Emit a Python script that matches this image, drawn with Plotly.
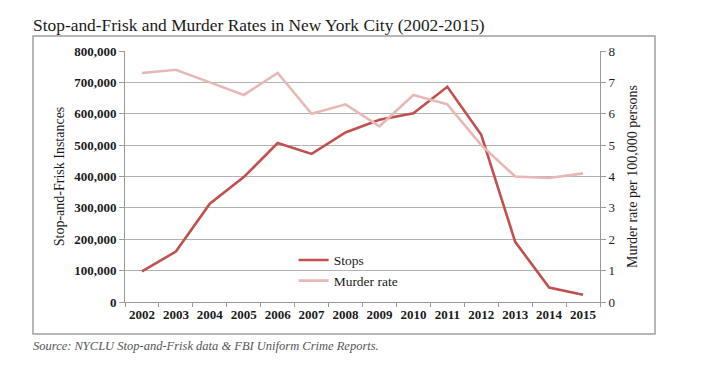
import plotly.graph_objects as go

years = [str(y) for y in range(2002, 2016)]
stops = [97296, 160851, 313523, 398191, 506491, 472096, 540302, 581168, 601285, 685724, 532911, 191851, 45787, 22939]
murder_rate = [7.3, 7.4, 7.0, 6.6, 7.3, 6.0, 6.3, 5.6, 6.6, 6.3, 5.0, 4.0, 3.95, 4.1]
left_ticks = list(range(0, 800001, 100000))
right_ticks = list(range(0, 9))

FONT = "Liberation Serif"
GRID = "#b3b3b3"
AXIS = "#9a9a9a"
TXT = "#1a1a1a"

fig = go.Figure()
fig.add_trace(go.Scatter(x=years, y=stops, name="Stops", mode="lines",
                         line=dict(color="#c0504d", width=2.6), yaxis="y"))
fig.add_trace(go.Scatter(x=years, y=murder_rate, name="Murder rate", mode="lines",
                         line=dict(color="#e8b8b7", width=2.6), yaxis="y2"))

# page body has an 8px default margin, so the figure is 8px smaller
fig.update_layout(
    width=693, height=373,
    margin=dict(l=117, r=101, t=43, b=79, autoexpand=False),
    paper_bgcolor="white", plot_bgcolor="white",
    font=dict(family=FONT, color=TXT, size=13),
    showlegend=True,
    legend=dict(x=0.355, y=0.228, xanchor="left", yanchor="top",
                bgcolor="rgba(0,0,0,0)", font=dict(size=13.5, family=FONT, color=TXT),
                tracegroupgap=0, itemwidth=30),
    xaxis=dict(type="category", tickson="boundaries", ticks="outside", ticklen=4,
               tickcolor=AXIS, showline=True, linecolor=AXIS, linewidth=1,
               showgrid=False, tickangle=0, automargin=False,
               tickfont=dict(size=13, family=FONT, color=TXT, weight="bold"),
               range=[-0.5, 13.5]),
    yaxis=dict(range=[0, 800000], tickvals=left_ticks,
               ticktext=[f"{v:,}" for v in left_ticks],
               ticks="outside", ticklen=5, tickcolor=AXIS,
               showline=True, linecolor=AXIS, linewidth=1, automargin=False,
               showgrid=True, gridcolor=GRID, gridwidth=1, zeroline=False,
               tickfont=dict(size=13, family=FONT, color=TXT, weight="bold"),
               title=dict(text="Stop-and-Frisk Instances", font=dict(size=14, family=FONT, color=TXT),
                          standoff=6)),
    yaxis2=dict(range=[0, 8], tickvals=right_ticks, overlaying="y", side="right",
                ticks="outside", ticklen=5, tickcolor=AXIS,
                showline=True, linecolor=AXIS, linewidth=1, automargin=False,
                showgrid=False, zeroline=False,
                tickfont=dict(size=13, family=FONT, color=TXT),
                title=dict(text="Murder rate per 100,000 persons", font=dict(size=14, family=FONT, color=TXT),
                           standoff=12)),
)

# outer frame
fig.add_shape(type="rect", xref="paper", yref="paper",
              x0=-0.1937, x1=1.1158, y0=-0.1275, y1=1.0598,
              line=dict(color="#a0a0a0", width=1.5), fillcolor="rgba(0,0,0,0)", layer="below")

fig.add_annotation(text="Stop-and-Frisk and Murder Rates in New York City (2002-2015)",
                   xref="paper", yref="paper", x=-0.1937, y=1.0598, xanchor="left", yanchor="bottom",
                   xshift=-2, yshift=-1, showarrow=False, font=dict(size=17.4, family=FONT, color=TXT))
fig.add_annotation(text="<i>Source: NYCLU Stop-and-Frisk data &amp; FBI Uniform Crime Reports.</i>",
                   xref="paper", yref="paper", x=-0.1937, y=-0.1275, xanchor="left", yanchor="top",
                   xshift=-2, yshift=-3, showarrow=False, font=dict(size=12.5, family=FONT, color="#555555"))

fig.write_html("out.html")
